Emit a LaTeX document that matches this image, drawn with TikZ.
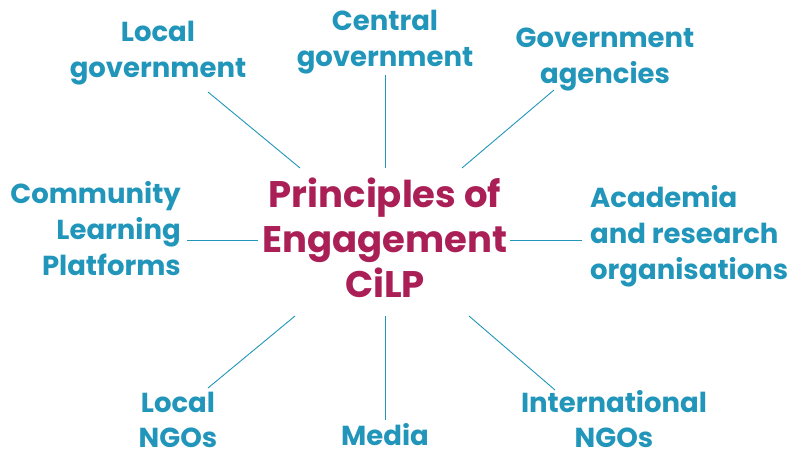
\documentclass[tikz,border=0pt]{standalone}
\usepackage{fontspec}
\setmainfont{Poppins}
\definecolor{stakeblue}{RGB}{33,150,186}
\definecolor{coremag}{RGB}{170,31,86}
\tikzset{
	stake/.style={text=stakeblue, font=\fontsize{27.5}{36}\selectfont\bfseries, align=center, inner sep=0pt},
	core/.style={text=coremag, font=\fontsize{37}{45}\selectfont\bfseries, align=center, inner sep=0pt},
	spoke/.style={draw=stakeblue, line width=0.9pt}
}

\begin{document}
\begin{tikzpicture}[x=1pt, y=-1pt]
			%%%%% START %%%%%
			
			\useasboundingbox (0, 0) rectangle (790, 457);
			
			\node[core] (hub) at (385, 238) {Principles of\\Engagement\\CiLP};
			
			\node[stake] (localgov) at (158, 53) {Local\\government};
			\node[stake] (centralgov) at (385, 42) {Central\\government};
			\node[stake] (agencies) at (605, 60) {Government\\agencies};
			\node[stake, align=right, anchor=east] (clp) at (181, 229) {Community\\Learning\\Platforms};
			\node[stake, align=left, anchor=west] (academia) at (590, 236) {Academia\\and research\\organisations};
			% bottom row sits on its last baseline
			\node[stake, text depth=0pt, anchor=south, font=\fontsize{27.5}{35}\selectfont\bfseries] (localngo) at (178, 448) {Local\\NGOs};
			\node[stake, text depth=0pt, anchor=south] (media) at (385, 446) {Media};
			\node[stake, text depth=0pt, anchor=south, font=\fontsize{27.5}{35}\selectfont\bfseries] (intngo) at (614, 448) {International\\NGOs};
			
			% inner and outer ends of the spokes
			\coordinate (lg-in) at (300, 168);
			\coordinate (lg-out) at (208, 92);
			\coordinate (cg-in) at (385, 168);
			\coordinate (cg-out) at (385, 75);
			\coordinate (ga-in) at (462, 168);
			\coordinate (ga-out) at (554, 90);
			\coordinate (cl-in) at (258, 240);
			\coordinate (cl-out) at (187, 240);
			\coordinate (ac-in) at (510, 240);
			\coordinate (ac-out) at (582, 240);
			\coordinate (ln-in) at (295, 316);
			\coordinate (ln-out) at (208, 388);
			\coordinate (me-in) at (385, 316);
			\coordinate (me-out) at (385, 420);
			\coordinate (in-in) at (469, 316);
			\coordinate (in-out) at (555, 390);
			
			\foreach \s in {lg, cg, ga, cl, ac, ln, me, in}
				\draw[spoke] (\s-in) -- (\s-out);
			
			%%%%% END %%%%%
\end{tikzpicture}
\end{document}
